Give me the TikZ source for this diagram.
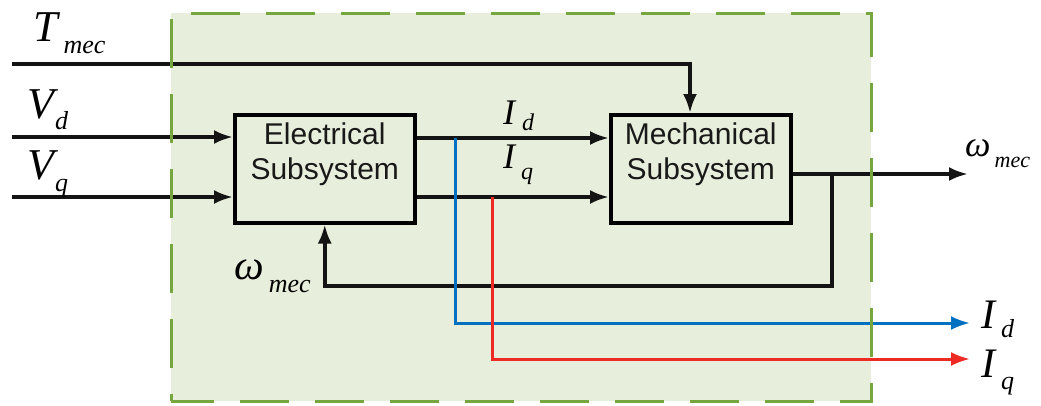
\documentclass[tikz,border=0pt]{standalone}
\usepackage{fontspec}
\setmainfont{Liberation Serif}
\newfontfamily\sysfont{Liberation Sans}
\usepackage{xcolor}
\usetikzlibrary{arrows.meta,positioning,calc}

\definecolor{panelfill}{RGB}{232,238,220}
\definecolor{paneledge}{RGB}{118,166,62}
\definecolor{idblue}{RGB}{0,112,192}
\definecolor{iqred}{RGB}{238,42,36}

% symbol with lowered subscript: [sub size]{size}{symbol}{kern}{drop}{subscript}
\newcommand{\symsub}[6][26]{{\fontsize{#2}{#2}\selectfont\itshape #3}\kern#4\raisebox{-#5}{\fontsize{#1}{#1}\selectfont\itshape #6}}

\begin{document}
\begin{tikzpicture}[
  x=1pt, y=-1pt,
  sysbox/.style={draw, line width=3.5pt, fill=panelfill, minimum width=180pt, minimum height=108pt, inner sep=0pt},
  systext/.style={inner sep=0pt, align=center, font=\sysfont\fontsize{30}{35}\selectfont, text=black!90},
  lab/.style={inner sep=0pt, anchor=base west},
  sig/.style={line width=3.5pt, draw=black!92},
  arrow/.style={sig, -{Latex[length=19pt, width=14pt]}},
  tap/.style={line width=3pt, -{Latex[length=19pt, width=14pt]}}
]
\useasboundingbox (0,0) rectangle (1041,405);
\fill[panelfill] (171,13) rectangle (871,401);

\node[sysbox, anchor=north west] (elec) at (233,113) {};
\node[systext, below=10pt of elec.north] (electxt) {Electrical\\Subsystem};
\node[sysbox, anchor=north west] (mech) at (609,113) {};
\node[systext, below=10pt of mech.north] (mechtxt) {Mechanical\\Subsystem};

% free ends and branch points
\coordinate (tin) at (12,64);
\coordinate (vdin) at (12,137);
\coordinate (vqin) at (12,197);
\coordinate (tdrop) at (690,64);
\coordinate (wout) at (968,174);
\coordinate (wtap) at (832,174);
\coordinate (fbrow) at (832,286);
\coordinate (idtap) at (455,138);
\coordinate (iqtap) at (492,197);
\coordinate (idout) at (970,323);
\coordinate (iqout) at (970,359);

% signal paths
\draw[arrow] (tin) -- (tdrop) -- (tdrop |- mech.north);
\draw[arrow] (vdin) -- (vdin -| elec.west);
\draw[arrow] (vqin) -- (vqin -| elec.west);
\draw[arrow] (idtap -| elec.east) -- (idtap -| mech.west);
\draw[arrow] (iqtap -| elec.east) -- (iqtap -| mech.west);
\draw[arrow] (wout -| mech.east) -- (wout);
\draw[arrow] (wtap) -- (fbrow) -- (fbrow -| elec.south) -- (elec.south);
\draw[tap, idblue] (idtap) |- (idout);
\draw[tap, iqred] (iqtap) |- (iqout);

\draw[paneledge, line width=3pt, dash pattern=on 49pt off 26pt, dash phase=42pt]
  (171,401) -- (171,13) -- (871,13) -- (871,401) -- cycle;

% labels
\node[lab] (tlab) at (33,41) {\symsub{44}{T}{6pt}{12pt}{mec}};
\node[lab] (vdlab) at (27,118) {\symsub{44}{V}{1pt}{11pt}{d}};
\node[lab] (vqlab) at (27,179) {\symsub{44}{V}{1pt}{12pt}{q}};
\node[lab] (idlab) at (503,124) {\symsub[24]{36}{I}{7pt}{6pt}{d}};
\node[lab] (iqlab) at (503,168) {\symsub[24]{36}{I}{6pt}{11pt}{q}};
\node[lab] (wlab) at (965,156) {\symsub[22]{36}{ω}{4pt}{11pt}{mec}};
\node[lab] (wfblab) at (234,279) {\symsub{42}{ω}{5pt}{13pt}{mec}};
\node[lab] (idoutlab) at (981,328) {\symsub{42}{I}{6pt}{9pt}{d}};
\node[lab] (iqoutlab) at (981,377) {\symsub{42}{I}{6pt}{12pt}{q}};
\end{tikzpicture}
\end{document}
